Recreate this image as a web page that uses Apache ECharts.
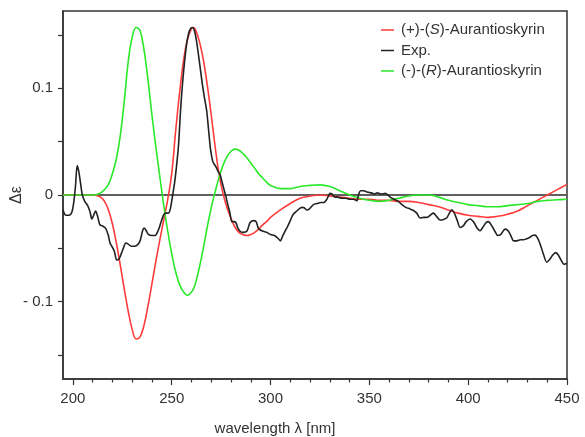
<!DOCTYPE html>
<html>
<head>
<meta charset="utf-8">
<script src="https://cdn.jsdelivr.net/npm/echarts@6/dist/echarts.min.js"></script>
<style>html,body{margin:0;padding:0;background:#fff;}#c{width:585px;height:437px;}</style>
</head>
<body>
<div id="c"></div>
<script>
const calcWavelengths = [195,200,205,210,212,214,216,218,220,222,224,226,228,230,232,234,236,238,240,242,244,246,248,250,252,254,256,258,260,261,262,264,266,268,270,272,274,276,278,280,282,284,286,288,290,292,294,296,298,300,305,310,315,320,325,330,335,340,345,350,355,360,365,370,375,380,385,390,395,400,405,410,415,420,425,430,435,440,445,450];
const sValues = [0,0,0,0,-0.0005,-0.002,-0.006,-0.014,-0.027,-0.045,-0.066,-0.088,-0.109,-0.126,-0.135,-0.133,-0.122,-0.104,-0.083,-0.062,-0.042,-0.023,-0.004,0.020,0.060,0.096,0.126,0.146,0.156,0.157,0.155,0.144,0.127,0.103,0.075,0.045,0.019,0.001,-0.012,-0.022,-0.030,-0.035,-0.037,-0.038,-0.037,-0.035,-0.032,-0.028,-0.025,-0.021,-0.014,-0.008,-0.003,-0.001,0,-0.001,-0.002,-0.003,-0.004,-0.004,-0.005,-0.005,-0.006,-0.006,-0.007,-0.009,-0.011,-0.014,-0.017,-0.019,-0.020,-0.021,-0.020,-0.018,-0.015,-0.010,-0.005,0.000,0.005,0.010];
const rValues = [0,0,0,0,0.0005,0.002,0.005,0.010,0.020,0.034,0.056,0.088,0.125,0.148,0.157,0.154,0.136,0.108,0.075,0.045,0.017,-0.010,-0.034,-0.055,-0.072,-0.084,-0.091,-0.094,-0.091,-0.088,-0.083,-0.068,-0.050,-0.030,-0.012,0.003,0.017,0.028,0.036,0.041,0.043,0.042,0.039,0.035,0.030,0.025,0.020,0.016,0.012,0.009,0.006,0.006,0.008,0.009,0.0095,0.008,0.004,0.000,-0.003,-0.005,-0.006,-0.005,-0.003,-0.001,0.000,0.000,-0.002,-0.005,-0.007,-0.009,-0.010,-0.011,-0.011,-0.010,-0.009,-0.008,-0.006,-0.005,-0.0045,-0.004];

const expWavelengths = [195,196.5,198,199.5,200.5,201.3,202.2,203,203.8,204.8,206,207.5,208.7,209.6,210.5,211.5,212.5,213.7,215,216.5,217.8,218.8,220,221,222.2,223.3,224.5,225.5,226.8,228,229.5,231,232.5,234,235.2,236,237,238.2,240,241.6,243,244.5,245.8,247,248.3,249.3,250.5,251.5,252.5,253.5,254.5,255.5,256.5,257.5,258.5,259.5,260.6,261.5,262.5,263.5,264.5,265.5,266.5,267.7,268.7,269.7,270.7,271.5,272.5,273.5,274.5,275.5,276.5,277.5,278.5,279.5,280.4,281.5,282.5,283.5,284.6,286,288,289.6,291.3,292.7,293.8,295,296.4,298,300,302,304,305,306,307.3,308.5,310,311.5,313.3,315.8,317,318.3,319.7,321.7,323.5,325.5,327,328.5,329.5,330.1,331,332.7,334,336,338,340.2,342,343.6,344.5,345.5,347,349.5,351,352.5,354,356,358,359.5,360.5,362.5,364.7,366.5,368.5,370.5,372.3,374,375.7,377.5,379,380.8,382.4,384,385.8,387.5,389.1,390.5,391.7,393,394.5,395.9,397.5,399,401,403,404.5,406,407.5,409,410.2,412,413.5,415,416.5,418.7,420.4,421.8,423,424.6,426.5,428,429.5,431,432.5,433.9,435,436.4,438,439.8,441,442.5,444.2,445.5,447,448.5,450];
const expValues = [-0.014,-0.019,-0.019,-0.016,-0.006,0.008,0.0275,0.022,0.012,0.000,-0.006,-0.010,-0.016,-0.0225,-0.019,-0.015,-0.020,-0.028,-0.029,-0.031,-0.037,-0.045,-0.049,-0.053,-0.061,-0.060,-0.055,-0.050,-0.045,-0.046,-0.048,-0.048,-0.047,-0.043,-0.034,-0.031,-0.033,-0.037,-0.038,-0.038,-0.034,-0.026,-0.019,-0.017,-0.017,-0.013,0.000,0.012,0.028,0.048,0.080,0.105,0.125,0.141,0.151,0.156,0.157,0.154,0.145,0.132,0.118,0.104,0.092,0.079,0.060,0.042,0.032,0.029,0.026,0.022,0.019,0.012,0.005,-0.002,-0.010,-0.017,-0.025,-0.025,-0.026,-0.031,-0.034,-0.035,-0.034,-0.026,-0.024,-0.025,-0.031,-0.033,-0.034,-0.035,-0.037,-0.038,-0.041,-0.043,-0.039,-0.034,-0.030,-0.024,-0.018,-0.015,-0.0116,-0.012,-0.014,-0.013,-0.009,-0.008,-0.007,-0.007,-0.004,0.000,0.0015,0.001,-0.002,-0.002,-0.003,-0.003,-0.004,-0.004,-0.0054,0.000,0.004,0.004,0.0025,0.002,0.001,0.002,0.001,0.0015,0.000,-0.002,-0.004,-0.006,-0.009,-0.0116,-0.013,-0.0145,-0.017,-0.0216,-0.021,-0.021,-0.019,-0.017,-0.020,-0.0235,-0.023,-0.0216,-0.017,-0.0138,-0.017,-0.024,-0.0304,-0.029,-0.025,-0.0225,-0.026,-0.031,-0.0335,-0.030,-0.026,-0.025,-0.029,-0.034,-0.038,-0.037,-0.032,-0.034,-0.039,-0.043,-0.043,-0.042,-0.042,-0.041,-0.040,-0.038,-0.0376,-0.040,-0.046,-0.055,-0.063,-0.061,-0.057,-0.054,-0.056,-0.061,-0.065,-0.064];

const xMin = 195, xMax = 450;
const yMin = -0.1725, yMax = 0.1725;
const xTickValues = [200,250,300,350,400,450];
const xMinorTickValues = [210,220,230,240,260,270,280,290,310,320,330,340,360,370,380,390,410,420,430,440];
const yTickValues = [-0.15,-0.1,-0.05,0,0.05,0.1,0.15];
const yLabelValues = [-0.1,0,0.1];

const FONT = 'Liberation Sans, Arial, sans-serif';
const TXT = '#333';
const LINE_ICON = 'path://M0,0h0.01v0.01h-0.01z M0,6.8h13v1.5h-13z M12.99,15h0.01v0.01h-0.01z';
const pairs = (xs, ys) => xs.map((x, i) => [x, ys[i]]);

const chart = echarts.init(document.getElementById('c'), null, {renderer: 'canvas'});
chart.setOption({
  animation: false,
  backgroundColor: '#fff',
  grid: {left: 63, right: 18, top: 11, bottom: 58, outerBoundsMode: 'none', containLabel: false,
    show: true, borderColor: '#333', borderWidth: 1.5, backgroundColor: 'transparent'},
  legend: {
    orient: 'vertical', left: 376, top: 17.5, itemWidth: 13, itemHeight: 15, itemGap: 5.5,
    icon: LINE_ICON,
    data: ['(+)-(S)-Aurantioskyrin', 'Exp.', '(-)-(R)-Aurantioskyrin'],
    formatter: n => n.replace(/\((S|R)\)/, '({i|$1})'),
    textStyle: {fontFamily: FONT, fontSize: 15, color: TXT, padding: [0,0,0,2],
      rich: {i: {fontFamily: FONT, fontSize: 15, color: TXT, fontStyle: 'italic'}}}
  },
  xAxis: [{
    type: 'value', min: xMin, max: xMax, position: 'bottom',
    name: 'wavelength λ [nm]', nameLocation: 'middle', nameGap: 42, nameMoveOverlap: false,
    nameTextStyle: {fontFamily: FONT, fontSize: 15, color: TXT, padding: [0, 80, 0, 0]},
    axisLine: {show: true, onZero: false, lineStyle: {color: '#333', width: 1.5}},
    axisTick: {show: true, customValues: xTickValues, length: 6, inside: false, lineStyle: {color: '#333', width: 1.2}},
    axisLabel: {customValues: xTickValues, fontFamily: FONT, fontSize: 15, color: TXT, margin: 12},
    splitLine: {show: false}
  }, {
    type: 'value', min: xMin, max: xMax, position: 'bottom',
    axisLine: {show: false, onZero: false},
    axisTick: {show: true, customValues: xMinorTickValues, length: 3.5, lineStyle: {color: '#333', width: 1.2}},
    axisLabel: {show: false},
    splitLine: {show: false}
  }],
  yAxis: {
    type: 'value', min: yMin, max: yMax,
    name: 'Δε', nameLocation: 'middle', nameGap: 38, nameMoveOverlap: false,
    nameTextStyle: {fontFamily: FONT, fontSize: 16, color: TXT},
    axisLine: {show: true, onZero: false, lineStyle: {color: '#333', width: 1.5}},
    axisTick: {show: true, customValues: yTickValues, length: 5, lineStyle: {color: '#333', width: 1.2}},
    axisLabel: {customValues: yLabelValues, fontFamily: FONT, fontSize: 15, color: TXT, margin: 10,
      formatter: v => v < 0 ? '- ' + String(Math.abs(v)) : String(v)},
    splitLine: {show: false}
  },
  series: [
    {name: 'zero', type: 'line', data: [[xMin, 0], [xMax, 0]], symbol: 'none', silent: true, z: 1,
      lineStyle: {color: '#606060', width: 2}},
    {name: '(+)-(S)-Aurantioskyrin', type: 'line', data: pairs(calcWavelengths, sValues), symbol: 'none', smooth: 0.4, z: 2,
      lineStyle: {color: '#ff3b3b', width: 1.6}, itemStyle: {color: '#ff3b3b'}},
    {name: '(-)-(R)-Aurantioskyrin', type: 'line', data: pairs(calcWavelengths, rValues), symbol: 'none', smooth: 0.4, z: 3,
      lineStyle: {color: '#2be82b', width: 1.6}, itemStyle: {color: '#2be82b'}},
    {name: 'Exp.', type: 'line', data: pairs(expWavelengths, expValues), symbol: 'none', smooth: 0.3, z: 4,
      lineStyle: {color: '#222', width: 1.6}, itemStyle: {color: '#222'}}
  ]
});
</script>
</body>
</html>
